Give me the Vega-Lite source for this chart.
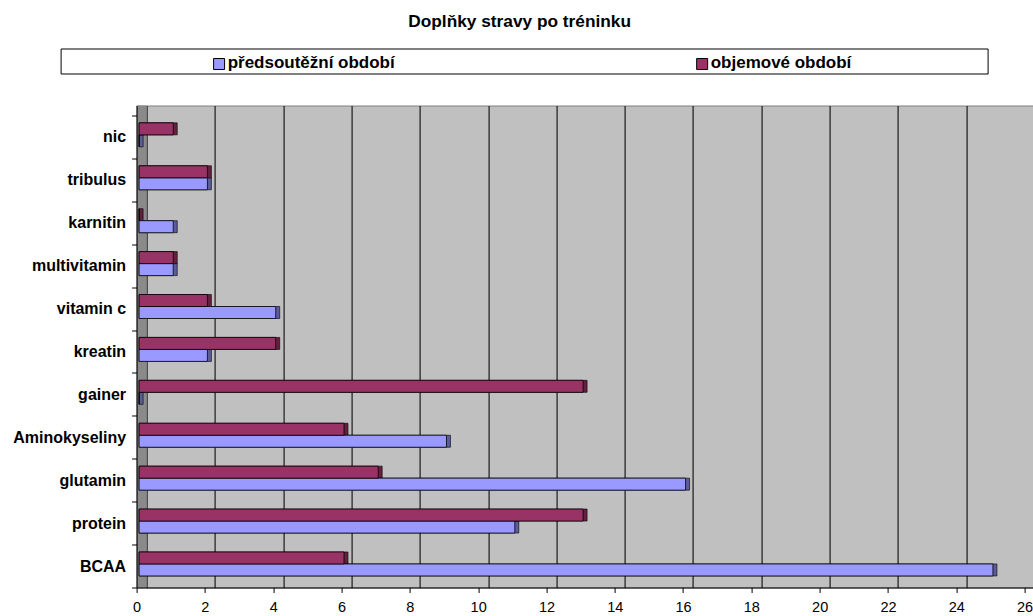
{
  "$schema": "https://vega.github.io/schema/vega-lite/v6.json",
  "background": "white",
  "padding": {"left": 11.6, "top": 12.5, "right": 0, "bottom": 0},
  "config": {"font": "Liberation Sans", "view": {"stroke": null}},
  "title": {
    "text": "Doplňky stravy po tréninku",
    "font": "Liberation Sans",
    "fontSize": 17.3,
    "fontWeight": "bold",
    "color": "black",
    "anchor": "middle",
    "offset": 18,
    "dx": -4
  },
  "bounds": "flush",
  "spacing": 32,
  "resolve": {"scale": {"x": "independent", "color": "shared"}},
  "data": {
    "values": [
      {"kategorie": "nic", "obdobi": "předsoutěžní období", "pocet": 0},
      {"kategorie": "nic", "obdobi": "objemové období", "pocet": 1},
      {"kategorie": "tribulus", "obdobi": "předsoutěžní období", "pocet": 2},
      {"kategorie": "tribulus", "obdobi": "objemové období", "pocet": 2},
      {"kategorie": "karnitin", "obdobi": "předsoutěžní období", "pocet": 1},
      {"kategorie": "karnitin", "obdobi": "objemové období", "pocet": 0},
      {"kategorie": "multivitamin", "obdobi": "předsoutěžní období", "pocet": 1},
      {"kategorie": "multivitamin", "obdobi": "objemové období", "pocet": 1},
      {"kategorie": "vitamin c", "obdobi": "předsoutěžní období", "pocet": 4},
      {"kategorie": "vitamin c", "obdobi": "objemové období", "pocet": 2},
      {"kategorie": "kreatin", "obdobi": "předsoutěžní období", "pocet": 2},
      {"kategorie": "kreatin", "obdobi": "objemové období", "pocet": 4},
      {"kategorie": "gainer", "obdobi": "předsoutěžní období", "pocet": 0},
      {"kategorie": "gainer", "obdobi": "objemové období", "pocet": 13},
      {"kategorie": "Aminokyseliny", "obdobi": "předsoutěžní období", "pocet": 9},
      {"kategorie": "Aminokyseliny", "obdobi": "objemové období", "pocet": 6},
      {"kategorie": "glutamin", "obdobi": "předsoutěžní období", "pocet": 16},
      {"kategorie": "glutamin", "obdobi": "objemové období", "pocet": 7},
      {"kategorie": "protein", "obdobi": "předsoutěžní období", "pocet": 11},
      {"kategorie": "protein", "obdobi": "objemové období", "pocet": 13},
      {"kategorie": "BCAA", "obdobi": "předsoutěžní období", "pocet": 25},
      {"kategorie": "BCAA", "obdobi": "objemové období", "pocet": 6}
    ]
  },
  "vconcat": [
    {
      "width": 927,
      "height": 25,
      "view": {"stroke": "black", "strokeWidth": 1, "fill": "white"},
      "transform": [{"aggregate": [{"op": "count", "as": "n"}], "groupby": ["obdobi"]}],
      "encoding": {
        "x": {
          "field": "obdobi",
          "type": "nominal",
          "scale": {"type": "point", "domain": ["předsoutěžní období", "objemové období"], "padding": 0.4595, "align": 0.357},
          "axis": null
        }
      },
      "layer": [
        {
          "mark": {"type": "point", "shape": "square", "filled": true, "size": 121, "opacity": 1, "stroke": "black", "strokeWidth": 1, "yOffset": 3},
          "encoding": {
            "color": {
              "field": "obdobi",
              "type": "nominal",
              "scale": {"domain": ["předsoutěžní období", "objemové období"], "range": ["#9999FF", "#993366"]},
              "legend": null
            }
          }
        },
        {
          "mark": {"type": "text", "align": "left", "baseline": "alphabetic", "dx": 8.6, "dy": 7.2, "font": "Liberation Sans", "fontSize": 17, "fontWeight": "bold", "color": "black"},
          "encoding": {"text": {"field": "obdobi"}}
        }
      ]
    },
    {
      "bounds": "flush",
      "spacing": 0,
      "hconcat": [
        {
          "width": 75.5,
          "height": 482,
          "transform": [{"aggregate": [{"op": "count", "as": "n"}]}],
          "mark": {"type": "rect", "opacity": 0},
          "encoding": {}
        },
        {
          "width": 898,
          "height": 482,
          "view": {"fill": "#C0C0C0", "stroke": "#808080", "strokeWidth": 1},
          "resolve": {"axis": {"x": "independent"}},
          "layer": [
            {
              "transform": [{"aggregate": [{"op": "count", "as": "n"}]}],
              "mark": {"type": "rect", "opacity": 0},
              "encoding": {
                "x": {
                  "datum": 0,
                  "type": "quantitative",
                  "scale": {"domain": [0, 26.293], "nice": false, "zero": true},
                  "axis": {
                    "orient": "top",
                    "values": [0, 2, 4, 6, 8, 10, 12, 14, 16, 18, 20, 22, 24, 26],
                    "grid": true,
                    "gridColor": "#1a1a1a",
                    "gridWidth": 1.2,
                    "tickOffset": 10,
                    "labels": false,
                    "ticks": false,
                    "domain": false,
                    "title": null,
                    "zindex": 0
                  }
                },
                "x2": {"datum": 26}
              }
            },
            {
              "transform": [{"aggregate": [{"op": "count", "as": "n"}]}],
              "mark": {"type": "rect", "color": "#8A8A8A", "x2Offset": 10},
              "encoding": {
                "x": {"datum": 0, "type": "quantitative", "scale": {"domain": [0, 26.293], "nice": false, "zero": true}, "axis": null},
                "x2": {"datum": 0}
              }
            },
            {
              "encoding": {
                "y": {
                  "field": "kategorie",
                  "type": "nominal",
                  "sort": ["nic", "tribulus", "karnitin", "multivitamin", "vitamin c", "kreatin", "gainer", "Aminokyseliny", "glutamin", "protein", "BCAA"],
                  "scale": {"paddingInner": 0, "paddingOuter": 0.1165, "align": 1},
                  "axis": {
                    "title": null,
                    "domainColor": "black",
                    "tickColor": "black",
                    "tickSize": 5,
                    "tickBand": "extent",
                    "labelFont": "Liberation Sans",
                    "labelFontSize": 16,
                    "labelFontWeight": "bold",
                    "labelColor": "black",
                    "labelPadding": 6,
                    "labelLimit": 300,
                    "zindex": 1
                  }
                },
                "yOffset": {
                  "field": "obdobi",
                  "type": "nominal",
                  "sort": ["objemové období", "předsoutěžní období"],
                  "scale": {"paddingInner": 0, "paddingOuter": 0.7879, "align": 0.39}
                },
                "x": {
                  "field": "pocet",
                  "type": "quantitative",
                  "scale": {"domain": [0, 26.293], "nice": false, "zero": true},
                  "axis": {
                    "orient": "bottom",
                    "values": [0, 2, 4, 6, 8, 10, 12, 14, 16, 18, 20, 22, 24, 26],
                    "grid": false,
                    "domainColor": "black",
                    "tickColor": "black",
                    "tickSize": 5,
                    "labelFont": "Liberation Sans",
                    "labelFontSize": 14.5,
                    "labelColor": "black",
                    "labelPadding": 8,
                    "labelFlush": false,
                    "title": null,
                    "zindex": 1
                  }
                },
                "x2": {"datum": 0}
              },
              "layer": [
                {
                  "mark": {"type": "bar", "stroke": "black", "strokeWidth": 0.6, "xOffset": 6.5, "x2Offset": 2.5, "yOffset": -3},
                  "encoding": {
                    "color": {"condition": {"test": "datum.obdobi === 'objemové období'", "value": "#66203F"}, "value": "#5C5C99"}
                  }
                },
                {
                  "mark": {"type": "bar", "strokeWidth": 0, "xOffset": 2.5, "x2Offset": 2.5, "yOffset": -3},
                  "encoding": {
                    "color": {"condition": {"test": "datum.obdobi === 'objemové období'", "value": "#7F2A55"}, "value": "#7A7AD4"}
                  }
                },
                {
                  "mark": {"type": "bar", "stroke": "black", "strokeWidth": 0.8, "xOffset": 2.5, "x2Offset": 2.5},
                  "encoding": {
                    "color": {
                      "field": "obdobi",
                      "type": "nominal",
                      "scale": {"domain": ["předsoutěžní období", "objemové období"], "range": ["#9999FF", "#993366"]},
                      "legend": null
                    }
                  }
                }
              ]
            }
          ]
        }
      ]
    }
  ]
}
